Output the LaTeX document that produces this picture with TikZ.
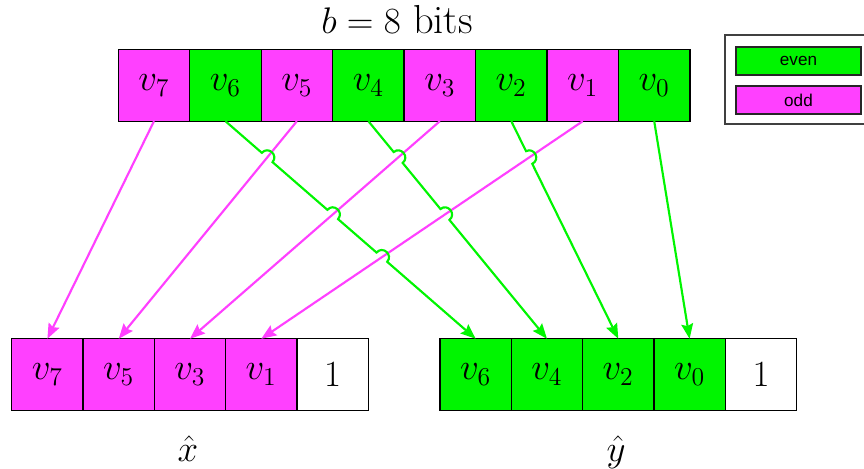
\documentclass[tikz,border=0pt]{standalone}
\usepackage{fontspec}
\newfontfamily\legendfont{Liberation Sans}
\usetikzlibrary{arrows.meta,positioning,calc,intersections}

\definecolor{evencol}{RGB}{0,245,0}
\definecolor{oddcol}{RGB}{255,64,255}

\tikzset{
    cell/.style={draw, line width=0.6pt, minimum size=33.35pt, inner sep=0pt, outer sep=0pt, font=\LARGE},
    oddarrow/.style={oddcol, line width=1pt, -{Stealth[length=7pt,width=5.5pt,inset=1pt]}},
    evenarrow/.style={evencol, line width=1pt, -{Stealth[length=7pt,width=5.5pt,inset=1pt]}},
    jump/.style={bend left=90, looseness=1.7},
    legbox/.style={draw=black!85, line width=0.6pt, minimum width=58.4pt, minimum height=13.1pt, inner sep=0pt, font=\legendfont\fontsize{8}{9}\selectfont}
}

\begin{document}
\begin{tikzpicture}[x=0.467pt, y=0.467pt]

    \useasboundingbox (0,0) rectangle (864,469);

    % --- cell pitch and jump radius ---
                \def\cw{71.46}
                \def\hopr{3.3pt}

    % --- b-bit word ---
                \node[anchor=base, font=\fontsize{18.9}{22}\selectfont] (title) at (397,435) {$b = 8$ bits};
                \foreach \v/\c [count=\k from 0] in {7/oddcol,6/evencol,5/oddcol,4/evencol,3/oddcol,2/evencol,1/oddcol,0/evencol}
                    \node[cell, fill=\c] (v\v) at ({154+\k*\cw},383.5) {$v_{\v}$};

    % --- odd half (x hat) ---
                \foreach \v [count=\k from 0] in {7,5,3,1}
                    \node[cell, fill=oddcol] (x\v) at ({47.4+\k*71.3},94.5) {$v_{\v}$};
                \node[cell, right=0pt of x1] (xone) {$1$};
                \node[anchor=base, font=\LARGE] (xhat) at (188,7.5) {$\hat{x}$};

    % --- even half (y hat) ---
                \foreach \v [count=\k from 0] in {6,4,2,0}
                    \node[cell, fill=evencol] (y\v) at ({475.7+\k*71.3},94.5) {$v_{\v}$};
                \node[cell, right=0pt of y0] (yone) {$1$};
                \node[anchor=base, font=\LARGE] (yhat) at (616,7.5) {$\hat{y}$};

    % --- legend ---
                \draw[black!75, line width=0.6pt] (725,434) rectangle (880,345);
                \node[legbox, fill=evencol] (leven) at (798.5,408) {even};
                \node[legbox, fill=oddcol] (lodd) at (798.5,369) {odd};

    % --- odd bits go left ---
                \foreach \v in {7,5,3,1}
                    \draw[oddarrow, name path global=m\v] (v\v.south) -- (x\v.north);

    % --- even bits go right, jumping over the odd ones ---
                \foreach \v in {6,4,2,0}
                    \path[name path global=g\v] (v\v.south) -- (y\v.north);
                \path[name intersections={of=g6 and m5, by=c65}];
                \path[name intersections={of=g6 and m3, by=c63}];
                \path[name intersections={of=g6 and m1, by=c61}];
                \path[name intersections={of=g4 and m3, by=c43}];
                \path[name intersections={of=g4 and m1, by=c41}];
                \path[name intersections={of=g2 and m1, by=c21}];

                \draw[evenarrow] (v6.south)
                    -- ($(c65)!\hopr!(v6.south)$) to[jump] ($(c65)!\hopr!(y6.north)$)
                    -- ($(c63)!\hopr!(v6.south)$) to[jump] ($(c63)!\hopr!(y6.north)$)
                    -- ($(c61)!\hopr!(v6.south)$) to[jump] ($(c61)!\hopr!(y6.north)$)
                    -- (y6.north);
                \draw[evenarrow] (v4.south)
                    -- ($(c43)!\hopr!(v4.south)$) to[jump] ($(c43)!\hopr!(y4.north)$)
                    -- ($(c41)!\hopr!(v4.south)$) to[jump] ($(c41)!\hopr!(y4.north)$)
                    -- (y4.north);
                \draw[evenarrow] (v2.south)
                    -- ($(c21)!\hopr!(v2.south)$) to[jump] ($(c21)!\hopr!(y2.north)$)
                    -- (y2.north);
                \draw[evenarrow] (v0.south) -- (y0.north);

\end{tikzpicture}
\end{document}
